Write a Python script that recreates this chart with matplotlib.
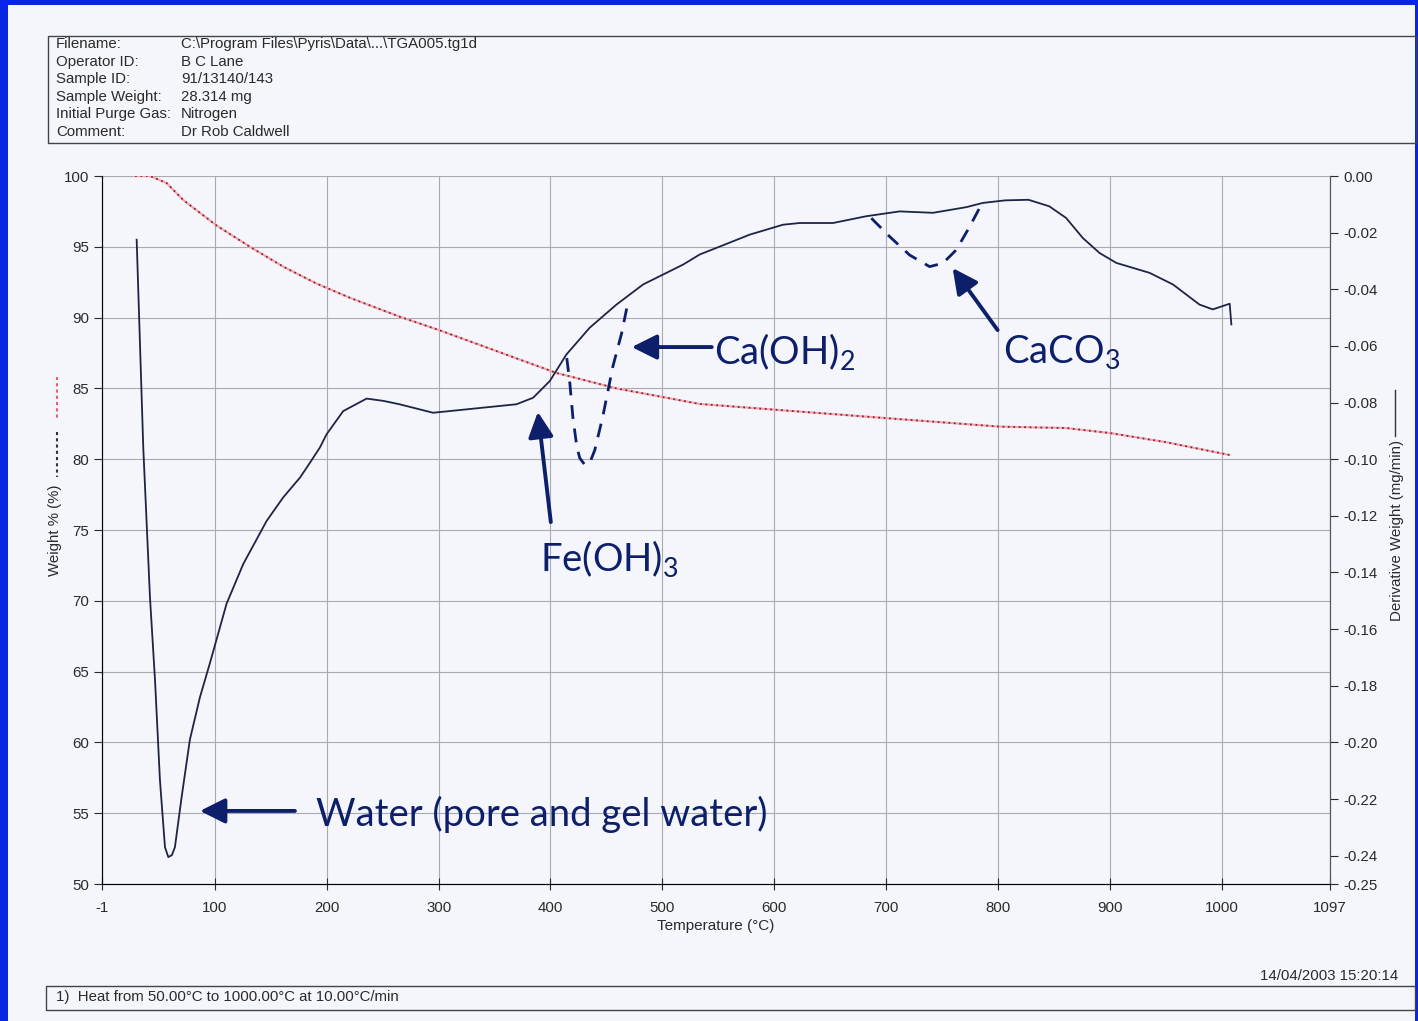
import matplotlib
matplotlib.use("Agg")
import matplotlib.pyplot as plt
from matplotlib.lines import Line2D
from matplotlib.patches import Rectangle

W, H = 1418, 1021

# derivative weight curve (mg/min) vs temperature (deg C)
deriv_temp = [30.0, 35.9, 41.9, 46.4, 50.8, 55.3, 58.3, 61.5, 64.2, 70.2, 77.6, 86.6, 95.5,
              110.4, 125.3, 146.2, 161.0, 176.0, 182.0, 193.8, 199.8, 214.7, 235.6, 250.4,
              265.0, 295.0, 324.9, 369.6, 384.5, 399.4, 414.3, 435.0, 459.0, 482.8, 503.7,
              518.5, 533.5, 548.3, 578.2, 607.9, 622.8, 652.6, 682.4, 712.2, 742.0, 771.8,
              786.7, 806.6, 827.4, 846.0, 861.0, 876.0, 891.0, 906.0, 935.7, 956.6, 980.3,
              992.2, 1007.3, 1008.8]
deriv_val = [-0.0225, -0.0959, -0.1488, -0.178, -0.2133, -0.237, -0.2405, -0.2398, -0.237,
             -0.2193, -0.199, -0.184, -0.172, -0.151, -0.137, -0.1218, -0.1135, -0.1065,
             -0.103, -0.0959, -0.0912, -0.083, -0.0786, -0.0794, -0.0806, -0.0836, -0.0824,
             -0.0806, -0.0783, -0.0724, -0.063, -0.0536, -0.0454, -0.0383, -0.0342, -0.0313,
             -0.0277, -0.0254, -0.0207, -0.0172, -0.0166, -0.0166, -0.0142, -0.0125, -0.013,
             -0.011, -0.0095, -0.0086, -0.0084, -0.0107, -0.0148, -0.0219, -0.0272, -0.0307,
             -0.0342, -0.0383, -0.0454, -0.0471, -0.0451, -0.0524]

# weight % curve
weight_temp = [28.5, 42, 56.8, 71.7, 86.6, 101.5, 131.3, 161, 190.9, 220.6, 265.3, 301, 405,
               459, 533.5, 600, 700, 801.6, 861, 900, 950.5, 1007]
weight_val = [100.0, 100.0, 99.5, 98.3, 97.4, 96.5, 95.0, 93.6, 92.4, 91.4, 90.06, 89.1, 86.1,
              85.0, 83.9, 83.5, 82.9, 82.3, 82.2, 81.85, 81.2, 80.3]

# hand-drawn dashed peaks
caoh_temp = [414.6, 417.3, 420.0, 423.6, 426.2, 430.7, 435.1, 439.6, 446.7, 455.7, 463.7, 469.1]
caoh_val = [-0.0643, -0.0731, -0.0851, -0.0957, -0.0996, -0.1020, -0.1013, -0.0968, -0.0851,
            -0.0674, -0.0554, -0.0449]
caco3_temp = [686.9, 703.3, 721.1, 739.0, 750.9, 762.8, 774.8, 786.6]
caco3_val = [-0.0149, -0.0214, -0.0279, -0.0320, -0.0308, -0.0261, -0.0179, -0.0091]

x_ticks = [-1, 100, 200, 300, 400, 500, 600, 700, 800, 900, 1000, 1097]
y_ticks = [50, 55, 60, 65, 70, 75, 80, 85, 90, 95, 100]
d_ticks = [0.0, -0.02, -0.04, -0.06, -0.08, -0.10, -0.12, -0.14, -0.16, -0.18, -0.20, -0.22,
           -0.24, -0.25]

header_keys = ["Filename:", "Operator ID:", "Sample ID:", "Sample Weight:",
               "Initial Purge Gas:", "Comment:"]
header_vals = ["C:\\Program Files\\Pyris\\Data\\...\\TGA005.tg1d", "B C Lane", "91/13140/143",
               "28.314 mg", "Nitrogen", "Dr Rob Caldwell"]

NAVY = "#0d1f6b"
PAGE = "#f4f6fb"
BLUE = "#0626e0"
GRID = "#a9abb2"
INK = "#2a2a2a"
FS = 10.8

plt.rcParams["font.family"] = ["Liberation Sans", "DejaVu Sans"]
plt.rcParams["axes.unicode_minus"] = False
plt.rcParams["mathtext.fontset"] = "custom"
plt.rcParams["mathtext.rm"] = "Lato"
plt.rcParams["mathtext.default"] = "rm"


def fx(x):
    return x / W


def fy(y):
    return 1 - y / H


fig = plt.figure(figsize=(W / 100, H / 100), dpi=100, facecolor=PAGE)
# scanned page blue frame
for rect in [(0, 0, 8, H), (0, 0, W, 5), (W - 3, 0, 3, H)]:
    x0, y0, w0, h0 = rect
    fig.patches.append(Rectangle((fx(x0), fy(y0 + h0)), w0 / W, h0 / H,
                                 transform=fig.transFigure, facecolor=BLUE,
                                 edgecolor="none", zorder=-5))

# header box
fig.patches.append(Rectangle((fx(48), fy(143)), fx(1416 - 48), (143 - 36) / H,
                             transform=fig.transFigure, facecolor="none",
                             edgecolor="#444", lw=1.0, zorder=1))
for i, (k, v) in enumerate(zip(header_keys, header_vals)):
    yy = fy(44 + i * 17.6)
    fig.text(fx(56), yy, k, fontsize=FS, va="center", color=INK)
    fig.text(fx(181), yy, v, fontsize=FS, va="center", color=INK)

# footer
fig.patches.append(Rectangle((fx(46), fy(1010)), fx(1415 - 46), 24 / H,
                             transform=fig.transFigure, facecolor="none",
                             edgecolor="#444", lw=1.0, zorder=1))
fig.text(fx(56), fy(997), "1)  Heat from 50.00\u00b0C to 1000.00\u00b0C at 10.00\u00b0C/min",
         fontsize=FS, va="center", color=INK)
fig.text(fx(1398), fy(976), "14/04/2003 15:20:14", fontsize=FS, va="center", ha="right",
         color=INK)

ax = fig.add_axes([fx(102), fy(884), fx(1330 - 102), (884 - 176) / H])
ax.set_facecolor("none")
ax2 = ax.twinx()

ax.plot(weight_temp, weight_val, color="#f2a7ae", lw=1.6, zorder=2)
ax.plot(weight_temp, weight_val, color="#8c2232", lw=1.3, ls=(0, (1, 2)), zorder=3)
ax.set_xlim(-1, 1097)
ax.set_ylim(50, 100)
ax.set_xticks(x_ticks)
ax.set_yticks(y_ticks)
ax.tick_params(axis="both", labelsize=FS, colors=INK, length=6, width=0.8)
ax.tick_params(axis="x", direction="inout", length=8, pad=8)
ax.grid(True, color=GRID, lw=0.8)
ax.spines["top"].set_visible(False)
for s in ["left", "bottom", "right"]:
    ax.spines[s].set_color("#555")
ax.set_xlabel("Temperature (\u00b0C)", fontsize=11, color=INK, labelpad=3)
ax.set_ylabel("Weight % (%)", fontsize=FS, color=INK, labelpad=1)

ax2.plot(deriv_temp, deriv_val, color="#1e2444", lw=1.3, zorder=3)
ax2.plot(caoh_temp, caoh_val, color=NAVY, lw=2, ls=(0, (5, 3.5)))
ax2.plot(caco3_temp, caco3_val, color=NAVY, lw=2, ls=(0, (5, 3.5)))
ax2.set_ylim(-0.25, 0.0)
ax2.set_yticks(d_ticks)
ax2.set_yticklabels([f"{t:.2f}" for t in d_ticks])
ax2.tick_params(axis="y", labelsize=FS, colors=INK, length=6, width=0.8)
ax2.spines["top"].set_visible(False)
ax2.spines["right"].set_color("#555")
ax2.set_ylabel("Derivative Weight (mg/min)", fontsize=FS, color=INK, labelpad=9)

# legend marks next to axis labels
fig.add_artist(Line2D([fx(57), fx(57)], [fy(377), fy(418)], color="#e0606c", lw=1.5,
                      ls=(0, (1.5, 1.5))))
fig.add_artist(Line2D([fx(57), fx(57)], [fy(432), fy(477)], color="#333", lw=1.5,
                      ls=(0, (1.5, 1.5))))
fig.add_artist(Line2D([fx(1395), fx(1395)], [fy(390), fy(436)], color="#333", lw=1.0))

# annotations
arrow = dict(arrowstyle="-|>", lw=2.8, color=NAVY, mutation_scale=38, shrinkA=0, shrinkB=0)
big = dict(fontsize=27.5, color=NAVY, family="Lato", va="center", ha="left")
ax2.annotate("", xy=(86.6, -0.2242), xytext=(171.5, -0.2242), arrowprops=arrow)
ax2.text(190.3, -0.2256, "Water (pore and gel water)", **big)
ax2.annotate("", xy=(388.7, -0.0833), xytext=(400.3, -0.1222), arrowprops=arrow)
ax2.text(390.5, -0.1349, "Fe(OH)$_3$", **big)
ax2.annotate("", xy=(472.7, -0.0604), xytext=(544.2, -0.0604), arrowprops=arrow)
ax2.text(546.0, -0.0621, "Ca(OH)$_2$", **big)
ax2.annotate("", xy=(759.6, -0.0325), xytext=(799.8, -0.0544), arrowprops=arrow)
ax2.text(804.3, -0.0621, "CaCO$_3$", **big)

fig.savefig("out.png", dpi=100, facecolor=fig.get_facecolor())
